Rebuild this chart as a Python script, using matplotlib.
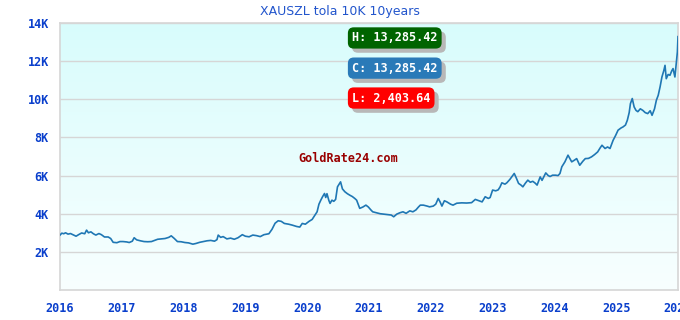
import numpy as np
import matplotlib
matplotlib.use("Agg")
import matplotlib.pyplot as plt
import matplotlib.patheffects as pe
from matplotlib.colors import LinearSegmentedColormap

# 日期 (小數年份) 與 價格
years = [
    2016.00, 2016.03, 2016.06, 2016.09, 2016.13, 2016.17, 2016.22, 2016.26, 2016.30, 2016.35,
    2016.40, 2016.43, 2016.46, 2016.50, 2016.54, 2016.58, 2016.63, 2016.67, 2016.72, 2016.78,
    2016.82, 2016.86, 2016.92, 2016.97, 2017.02, 2017.08, 2017.12, 2017.17, 2017.20, 2017.24,
    2017.30, 2017.36, 2017.42, 2017.48, 2017.53, 2017.58, 2017.64, 2017.70, 2017.76, 2017.80,
    2017.85, 2017.90, 2017.96, 2018.02, 2018.08, 2018.15, 2018.20, 2018.26, 2018.32, 2018.38,
    2018.44, 2018.50, 2018.54, 2018.56, 2018.60, 2018.64, 2018.70, 2018.76, 2018.82, 2018.88,
    2018.95, 2019.00, 2019.06, 2019.12, 2019.18, 2019.24, 2019.30, 2019.38, 2019.43, 2019.48,
    2019.53, 2019.58, 2019.63, 2019.70, 2019.76, 2019.83, 2019.88, 2019.92, 2019.97, 2020.03,
    2020.08, 2020.12, 2020.16, 2020.19, 2020.22, 2020.25, 2020.28, 2020.30, 2020.32, 2020.35,
    2020.37, 2020.40, 2020.43, 2020.46, 2020.49, 2020.54, 2020.57, 2020.61, 2020.65, 2020.69,
    2020.73, 2020.77, 2020.80, 2020.83, 2020.85, 2020.90, 2020.95, 2020.99, 2021.03, 2021.06,
    2021.12, 2021.18, 2021.23, 2021.30, 2021.36, 2021.40, 2021.45, 2021.50, 2021.55, 2021.60,
    2021.66, 2021.71, 2021.76, 2021.80, 2021.83, 2021.88, 2021.94, 2021.98, 2022.04, 2022.08,
    2022.12, 2022.15, 2022.18, 2022.22, 2022.26, 2022.32, 2022.36, 2022.42, 2022.50, 2022.58,
    2022.66, 2022.72, 2022.78, 2022.83, 2022.88, 2022.93, 2022.96, 2023.00, 2023.05, 2023.09,
    2023.12, 2023.15, 2023.20, 2023.23, 2023.28, 2023.31, 2023.35, 2023.38, 2023.42, 2023.46,
    2023.49, 2023.53, 2023.57, 2023.61, 2023.65, 2023.69, 2023.72, 2023.77, 2023.80, 2023.86,
    2023.90, 2023.93, 2023.97, 2024.02, 2024.06, 2024.09, 2024.12, 2024.17, 2024.22, 2024.25,
    2024.28, 2024.32, 2024.36, 2024.41, 2024.46, 2024.50, 2024.55, 2024.60, 2024.65, 2024.70,
    2024.74, 2024.77, 2024.82, 2024.86, 2024.90, 2024.95, 2024.99, 2025.03, 2025.08, 2025.11,
    2025.15, 2025.18, 2025.21, 2025.23, 2025.26, 2025.29, 2025.32, 2025.35, 2025.39, 2025.43,
    2025.47, 2025.51, 2025.55, 2025.58, 2025.62, 2025.65, 2025.68, 2025.71, 2025.74, 2025.77,
    2025.79, 2025.81, 2025.84, 2025.87, 2025.90, 2025.92, 2025.95, 2025.97, 2025.99, 2026.00,
]
prices = [
    2880, 2980, 2950, 3000, 2930, 2960, 2880, 2820, 2900, 2990,
    2950, 3140, 3000, 3050, 2950, 2880, 2960, 2900, 2780, 2780,
    2700, 2500, 2480, 2540, 2540, 2520, 2490, 2560, 2740, 2630,
    2580, 2540, 2530, 2540, 2600, 2660, 2680, 2700, 2760, 2840,
    2700, 2540, 2530, 2490, 2470, 2403.64, 2440, 2500, 2540, 2580,
    2600, 2560, 2640, 2880, 2760, 2800, 2680, 2720, 2660, 2740,
    2900, 2820, 2790, 2880, 2850, 2800, 2900, 2950, 3180, 3500,
    3630, 3600, 3490, 3450, 3400, 3330, 3300, 3490, 3450, 3600,
    3700, 3900, 4100, 4500, 4710, 4900, 5060, 4850, 5050, 4700,
    4540, 4710, 4650, 4750, 5410, 5670, 5300, 5150, 5050, 4970,
    4900, 4800, 4710, 4450, 4280, 4350, 4450, 4350, 4200, 4100,
    4050, 4000, 3980, 3950, 3930, 3840, 3980, 4050, 4100, 4020,
    4150, 4100, 4200, 4350, 4450, 4450, 4400, 4360, 4400, 4500,
    4800, 4620, 4400, 4680, 4620, 4500, 4450, 4550, 4570, 4560,
    4580, 4750, 4680, 4620, 4890, 4800, 4850, 5240, 5200, 5250,
    5400, 5620, 5550, 5620, 5800, 5930, 6110, 5900, 5590, 5500,
    5410, 5600, 5760, 5650, 5700, 5600, 5500, 5930, 5750, 6140,
    6000, 5950, 6020, 6020, 6000, 6110, 6460, 6720, 7070, 6900,
    6720, 6800, 6890, 6540, 6750, 6890, 6900, 6980, 7100, 7240,
    7450, 7590, 7420, 7500, 7420, 7850, 8100, 8380, 8500, 8550,
    8650, 8900, 9300, 9770, 10040, 9600, 9420, 9350, 9500, 9420,
    9300, 9250, 9400, 9160, 9500, 9950, 10210, 10650, 11170, 11500,
    11780, 11080, 11300, 11260, 11500, 11610, 11170, 11800, 12480, 13285.42,
]

y_ticks = [2000, 4000, 6000, 8000, 10000, 12000, 14000]
y_tick_labels = ["2K", "4K", "6K", "8K", "10K", "12K", "14K"]
x_ticks = list(range(2016, 2027))
x_tick_labels = [str(y) for y in x_ticks]

title = "XAUSZL tola 10K 10years"
high_label = "H: 13,285.42"
close_label = "C: 13,285.42"
low_label = "L: 2,403.64"

tick_color = "#0a3fcc"
mono = "DejaVu Sans Mono"

fig = plt.figure(figsize=(6.8, 3.2), dpi=100)
ax = fig.add_axes([60 / 680, 30 / 320, 618 / 680, 267 / 320])

# 背景漸層
cmap = LinearSegmentedColormap.from_list("bg", ["#f8ffff", "#d8fcfc"])
grad = np.linspace(0, 1, 256).reshape(-1, 1)
ax.imshow(grad, cmap=cmap, aspect="auto", origin="lower",
          extent=[2016, 2026, 0, 14000], zorder=0)

ax.plot(years, prices, color="#1f77b4", linewidth=1.2, zorder=3)

ax.set_xlim(2016, 2026)
ax.set_ylim(0, 14000)
ax.set_yticks(y_ticks)
ax.set_yticklabels(y_tick_labels)
ax.set_xticks(x_ticks)
ax.set_xticklabels(x_tick_labels)
ax.tick_params(axis="both", length=0, labelcolor=tick_color, labelsize=8.5)
ax.tick_params(axis="x", pad=9)
ax.tick_params(axis="y", pad=8)
for lab in ax.get_xticklabels() + ax.get_yticklabels():
    lab.set_fontfamily(mono)
    lab.set_fontweight("bold")
ax.grid(axis="y", color="#d6d6d6", linewidth=1)
ax.set_axisbelow(False)
for s in ax.spines.values():
    s.set_color("#d6d6d6")
    s.set_linewidth(1.2)

fig.text(340 / 680, 1 - 11 / 320, title, ha="center", va="center",
         color="#2255cc", fontsize=9)

# H / C / L 標籤 (帶陰影)
for text, color, yf in [(high_label, "#006400", 0.944),
                        (close_label, "#2a7ab8", 0.831),
                        (low_label, "#ff0000", 0.719)]:
    t = ax.text(0.4725, yf, text, transform=ax.transAxes, color="white",
                ha="left", va="center", fontsize=8.5, fontfamily=mono,
                fontweight="bold", zorder=5,
                bbox=dict(boxstyle="round,pad=0.35,rounding_size=0.5",
                          fc=color, ec="none"))
    t.get_bbox_patch().set_path_effects([
        pe.SimplePatchShadow(offset=(3, -3), shadow_rgbFace="#b8b8b8", alpha=1),
        pe.Normal(),
    ])

ax.text(0.466, 0.494, "GoldRate24.com", transform=ax.transAxes,
        ha="center", va="center", color="#990000", fontsize=8.5,
        fontfamily=mono, fontweight="bold", zorder=4)

fig.savefig("out.png", dpi=100)
